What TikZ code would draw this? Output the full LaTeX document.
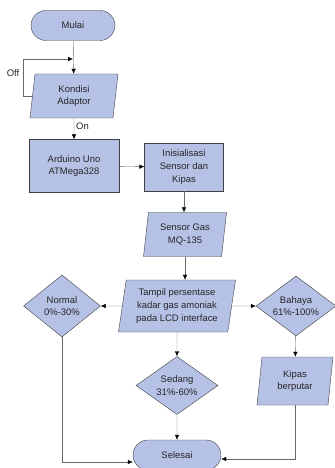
\documentclass[tikz,border=0pt]{standalone}
\usepackage{fontspec}
\setmainfont{Liberation Sans}
\usetikzlibrary{shapes.geometric,shapes.misc,arrows.meta}
\definecolor{flowblue}{RGB}{182,193,230}
\newcommand{\flowfont}{\fontsize{9.5}{12.8}\selectfont}
\tikzset{
	base/.style={draw=black!75, fill=flowblue, font=\flowfont, text=black!85, align=center, inner sep=1bp},
	terminal/.style={base, rounded rectangle, minimum width=86bp, minimum height=30bp},
	process/.style={base, rectangle},
	io/.style={base, trapezium, trapezium left angle=78, trapezium right angle=102, trapezium stretches body},
	decision/.style={base, diamond, aspect=1.3, inner sep=0pt},
	arr/.style={draw=black!60, -{Latex[length=5bp,width=4.5bp,black]}},
	lbl/.style={font=\flowfont, text=black!85, inner sep=1bp}
}
\begin{document}
\begin{tikzpicture}[x=1bp,y=-1bp]
	\useasboundingbox (0,0) rectangle (334,468);
	\node[terminal] (mulai) at (73,25.5) {Mulai};
	\node[io, minimum width=88bp, minimum height=44bp] (kondisi) at (74,96) {Kondisi\\Adaptor};
	\node[process, minimum width=90bp, minimum height=53bp] (arduino) at (74,166) {Arduino Uno\\ATMega328};
	\node[process, minimum width=79bp, minimum height=48bp] (init) at (184,167) {Inisialisasi\\Sensor dan\\Kipas};
	\node[io, minimum width=83bp, minimum height=44bp] (sensor) at (185,234.5) {Sensor Gas\\MQ-135};
	\node[io, minimum width=117bp, minimum height=52bp] (tampil) at (177,306) {Tampil persentase\\kadar gas amoniak\\pada LCD interface};
	\node[decision, minimum width=77bp, minimum height=62bp] (normal) at (62,306) {Normal\\0\%-30\%};
	\node[decision, minimum width=80bp, minimum height=60bp] (bahaya) at (296,306) {Bahaya\\61\%-100\%};
	\node[decision, minimum width=82bp, minimum height=58bp] (sedang) at (177,385.5) {Sedang\\31\%-60\%};
	\node[io, minimum width=76bp, minimum height=48bp] (kipas) at (295,381) {Kipas\\berputar};
	\node[terminal, minimum width=90bp] (selesai) at (177,455) {Selesai};
	\coordinate (offjoin) at (73,59);
	\node[lbl] (off) at (13,73) {Off};
	% alur utama
	\draw[arr] (mulai) -- (kondisi);
	\draw[arr] (kondisi.west) -- ++(-9,0) |- (offjoin);
	\draw[arr] (kondisi) -- (arduino) node[lbl, pos=0.4, right=1bp] {On};
	\draw[arr] (arduino) -- (init);
	\draw[arr] (init.south) -- (init.south |- sensor.north);
	\draw[arr] (sensor.south) -- (sensor.south |- tampil.north);
	\draw[arr] (tampil.west) -- (normal.east);
	\draw[arr] (tampil.east) -- (bahaya.west);
	\draw[arr] (tampil) -- (sedang);
	\draw[arr] (bahaya) -- (kipas);
	\draw[arr] (sedang) -- (selesai);
	\draw[arr] (normal.south) |- ([yshift=-7bp]selesai.west);
	\draw[arr] (kipas.south) |- ([yshift=-4bp]selesai.east);
\end{tikzpicture}
\end{document}
